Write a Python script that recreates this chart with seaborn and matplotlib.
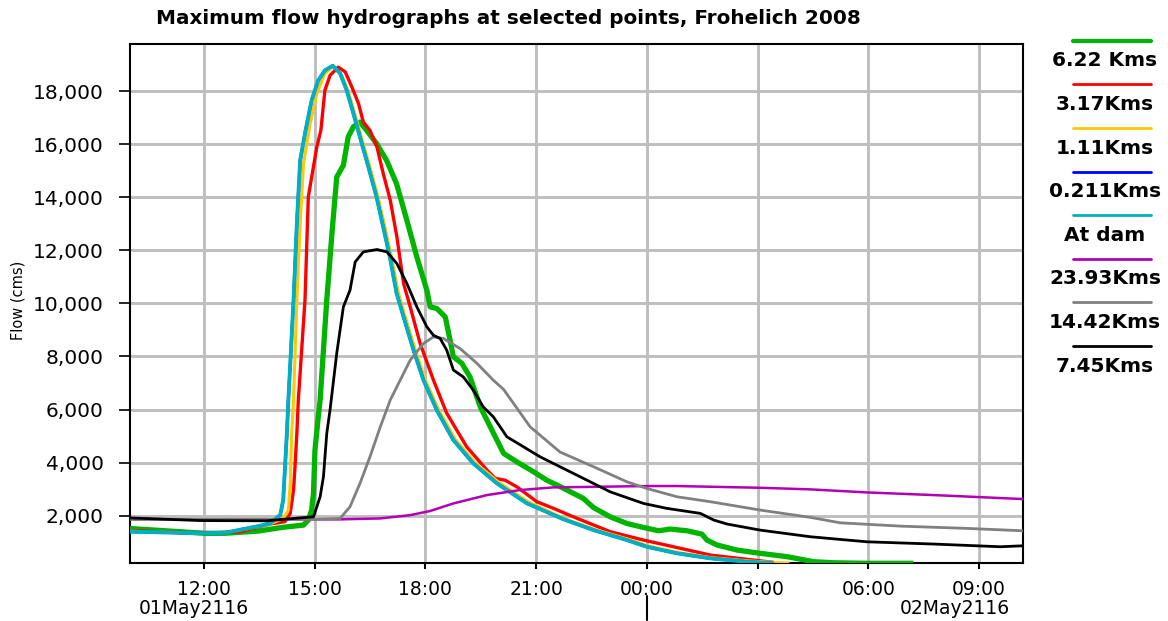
import numpy as np
import pandas as pd
import matplotlib
matplotlib.use("Agg")
import matplotlib.pyplot as plt
import matplotlib.transforms as mtransforms
from matplotlib.lines import Line2D
import seaborn as sns

# ---------------- data (hours since 01May2116 00:00, flow in cms) ----------------
TITLE = "Maximum flow hydrographs at selected points, Frohelich 2008"
Y_LABEL = "Flow (cms)"
x_tick_hours = [12, 15, 18, 21, 24, 27, 30, 33]
x_tick_labels = ["12:00", "15:00", "18:00", "21:00", "00:00", "03:00", "06:00", "09:00"]
y_ticks = [2000, 4000, 6000, 8000, 10000, 12000, 14000, 16000, 18000]
y_tick_labels = ["2,000", "4,000", "6,000", "8,000", "10,000", "12,000", "14,000", "16,000", "18,000"]
date_labels = ["01May2116", "02May2116"]
date_label_hours = [11.72, 32.33]
day_break_hour = 24

series_labels = ["6.22 Kms", "3.17Kms", "1.11Kms", "0.211Kms", "At dam",
                 "23.93Kms", "14.42Kms", "7.45Kms"]
series_colors = ["#00B400", "#FF0000", "#FFC800", "#0000FF", "#00AFC3",
                 "#B400B4", "#808080", "#000000"]

t_622 = [10.0, 12.03, 12.57, 13.48, 14.11, 14.70, 14.83, 14.92, 14.97, 15.01, 15.10, 15.15,
         15.33, 15.47, 15.60, 15.78, 15.91, 16.05, 16.23, 16.41, 16.68, 16.95, 17.22, 17.50,
         17.77, 18.04, 18.13, 18.31, 18.54, 18.67, 18.76, 18.99, 19.21, 19.49, 19.76, 20.12,
         20.48, 20.93, 21.29, 21.65, 22.28, 22.55, 23.01, 23.46, 23.91, 24.32, 24.63, 25.09,
         25.49, 25.63, 25.90, 26.44, 27.07, 27.80, 28.52, 29.06, 29.96, 31.22]
q_622 = [1520, 1340, 1340, 1425, 1560, 1650, 1840, 2215, 2840, 4470, 5730, 6360,
         10120, 12630, 14760, 15200, 16270, 16650, 16830, 16520, 16020, 15390, 14510, 13130,
         11750, 10500, 9870, 9810, 9490, 8620, 7990, 7740, 7230, 6100, 5350, 4350,
         4030, 3660, 3340, 3100, 2655, 2315, 1960, 1710, 1560, 1435, 1500, 1435,
         1310, 1085, 900, 710, 585, 460, 270, 230, 210, 210]

t_317 = [10.0, 12.03, 12.98, 13.79, 14.20, 14.34, 14.43, 14.47, 14.52, 14.56, 14.74, 14.83,
         15.06, 15.17, 15.28, 15.42, 15.64, 15.83, 16.01, 16.19, 16.32, 16.50, 16.69, 16.86,
         17.05, 17.23, 17.41, 17.59, 17.86, 18.22, 18.58, 19.12, 19.67, 19.89, 20.16, 20.48,
         21.02, 21.47, 22.01, 23.01, 23.91, 24.72, 25.72, 26.71, 27.43]
q_317 = [1440, 1340, 1400, 1690, 1780, 2090, 2970, 3850, 5100, 6360, 10120, 14010,
         15890, 16520, 18030, 18590, 18900, 18720, 18150, 17530, 16830, 16520, 15890, 14890,
         13890, 12500, 10750, 9870, 8490, 7110, 5860, 4600, 3720, 3410, 3340, 3090,
         2530, 2280, 1960, 1400, 1085, 833, 520, 360, 245]

t_111 = [10.0, 12.03, 12.57, 13.48, 13.79, 14.15, 14.29, 14.34, 14.38, 14.43, 14.52, 14.61,
         14.70, 14.88, 15.06, 15.28, 15.51, 15.74, 15.92, 16.10, 16.28, 16.51, 16.73, 16.91,
         17.09, 17.27, 17.46, 17.73, 18.00, 18.36, 18.81, 19.35, 19.99, 20.80, 21.79, 22.61,
         23.51, 24.05, 24.87, 25.77, 26.76, 27.50, 27.86]
q_111 = [1420, 1340, 1360, 1590, 1690, 1900, 2215, 3220, 5100, 6360, 10120, 13000,
         15270, 16770, 17900, 18660, 18940, 18590, 17950, 17100, 16200, 15080, 13950, 12850,
         11700, 10400, 9480, 8250, 7120, 6000, 4880, 4000, 3260, 2510, 1880, 1480,
         1110, 860, 610, 420, 300, 240, 215]

t_0211 = [10.0, 12.03, 12.57, 13.48, 13.79, 14.07, 14.15, 14.20, 14.25, 14.29, 14.43, 14.52,
          14.61, 14.74, 14.92, 15.10, 15.28, 15.49, 15.69, 15.87, 16.05, 16.23, 16.46, 16.68,
          16.86, 17.04, 17.22, 17.41, 17.68, 17.95, 18.31, 18.76, 19.30, 19.94, 20.75, 21.74,
          22.56, 23.46, 24.00, 24.82, 25.72, 26.71, 27.43]
q_0211 = [1400, 1340, 1360, 1610, 1710, 2030, 2590, 3850, 5110, 6360, 10120, 13020,
          15390, 16400, 17650, 18400, 18780, 18950, 18670, 18030, 17160, 16260, 15130, 14000,
          12870, 11740, 10390, 9490, 8240, 7110, 5980, 4850, 3970, 3220, 2470, 1870,
          1460, 1085, 833, 585, 396, 270, 210]

t_dam = [10.0, 12.03, 12.57, 13.48, 13.79, 14.07, 14.15, 14.20, 14.25, 14.29, 14.43, 14.52,
         14.61, 14.74, 14.92, 15.10, 15.28, 15.49, 15.69, 15.87, 16.05, 16.23, 16.46, 16.68,
         16.86, 17.04, 17.22, 17.41, 17.68, 17.95, 18.31, 18.76, 19.30, 19.94, 20.75, 21.74,
         22.56, 23.46, 24.00, 24.82, 25.72, 26.71, 27.43]
q_dam = [1400, 1340, 1360, 1610, 1710, 2030, 2590, 3850, 5110, 6360, 10120, 13020,
         15390, 16400, 17650, 18400, 18780, 18950, 18670, 18030, 17160, 16260, 15130, 14000,
         12870, 11740, 10390, 9490, 8240, 7110, 5980, 4850, 3970, 3220, 2470, 1870,
         1460, 1085, 833, 585, 396, 270, 210]

t_2393 = [10.0, 15.69, 16.78, 17.59, 18.13, 18.76, 19.67, 20.57, 21.47, 22.56, 24.00, 24.82,
          27.07, 28.43, 29.96, 31.77, 34.19]
q_2393 = [1865, 1865, 1900, 2025, 2180, 2465, 2780, 2970, 3070, 3090, 3120, 3120,
          3055, 2995, 2880, 2780, 2630]

t_1442 = [10.0, 14.97, 15.69, 15.96, 16.23, 16.50, 16.78, 17.05, 17.23, 17.59, 17.95, 18.22,
          18.49, 18.94, 19.40, 19.84, 20.12, 20.84, 21.65, 22.56, 23.46, 24.00, 24.82, 25.72,
          27.07, 28.43, 29.24, 30.87, 32.67, 34.19]
q_1442 = [1870, 1865, 1900, 2340, 3220, 4220, 5350, 6360, 6860, 7860, 8490, 8740,
          8680, 8300, 7740, 7110, 6760, 5350, 4400, 3845, 3280, 3030, 2715, 2530,
          2215, 1940, 1735, 1610, 1525, 1435]

t_745 = [10.0, 11.90, 13.70, 14.61, 14.97, 15.15, 15.24, 15.33, 15.42, 15.60, 15.78, 15.96,
         16.10, 16.32, 16.69, 16.96, 17.23, 17.50, 17.77, 18.04, 18.22, 18.40, 18.58, 18.76,
         19.03, 19.30, 19.57, 19.84, 20.21, 21.11, 21.65, 22.38, 23.01, 23.91, 24.54, 25.45,
         25.81, 26.17, 27.07, 28.43, 29.96, 31.77, 33.58, 34.19]
q_745 = [1920, 1820, 1810, 1920, 1960, 2715, 3470, 5100, 6000, 8115, 9870, 10500,
         11560, 11940, 12030, 11940, 11500, 10750, 9870, 9120, 8800, 8680, 8240, 7490,
         7230, 6730, 6100, 5730, 4975, 4220, 3845, 3340, 2900, 2465, 2280, 2090,
         1840, 1690, 1460, 1210, 1020, 935, 833, 870]

series_times = [t_622, t_317, t_111, t_0211, t_dam, t_2393, t_1442, t_745]
series_flows = [q_622, q_317, q_111, q_0211, q_dam, q_2393, q_1442, q_745]

# ---------------- styling ----------------
line_widths = [3.8, 2.4, 2.2, 2.2, 2.8, 1.8, 2.0, 2.0]
draw_order = [0, 1, 2, 3, 4, 6, 5, 7]

sns.set_theme(style="white")
plt.rcParams['font.family'] = ['DejaVu Sans']

W, H = 1168, 621
fig = plt.figure(figsize=(W / 100, H / 100), dpi=100)
ax = fig.add_axes([130 / W, 1 - 563.3 / H, (1023 - 130) / W, (563.3 - 44.3) / H])

for i in draw_order:
    df = pd.DataFrame({"time": series_times[i], "flow": series_flows[i]})
    sns.lineplot(data=df, x="time", y="flow", ax=ax, color=series_colors[i],
                 linewidth=line_widths[i], sort=False, estimator=None, legend=False,
                 zorder=3 + i * 0.1, solid_joinstyle="round", solid_capstyle="butt")

ax.set_xlim(10.0, 34.19)
ax.set_ylim(210, 19760)
ax.set_xticks(x_tick_hours)
ax.set_xticklabels(x_tick_labels)
ax.set_yticks(y_ticks)
ax.set_yticklabels(y_tick_labels)
ax.set_xlabel("")
ax.set_ylabel("")
ax.grid(True, color="#BEBEBE", linewidth=2.1, zorder=0)
ax.set_axisbelow(True)
for sp in ax.spines.values():
    sp.set_visible(True)
    sp.set_color("black")
    sp.set_linewidth(1.5)
ax.tick_params(axis="x", which="major", direction="out", length=4, width=1.5,
               pad=8, labelsize=13.5, colors="black", bottom=True)
ax.tick_params(axis="y", which="major", direction="out", length=8, width=1.2,
               pad=11, labelsize=14.5, colors="black", left=True)

# date labels & day break marker
trans = mtransforms.blended_transform_factory(ax.transData, fig.transFigure)
for lab, hr in zip(date_labels, date_label_hours):
    ax.text(hr, 1 - 609 / H, lab, transform=trans, ha="center", va="center",
            fontsize=13.5, color="black")
ax.add_line(Line2D([day_break_hour, day_break_hour], [1 - 596 / H, 1 - 620 / H],
                   transform=trans, color="black", linewidth=1.5, clip_on=False))

# title and y label
fig.text(508 / W, 1 - 18 / H, TITLE, ha="center", va="center", fontsize=14.4,
         fontweight="bold", color="black")
fig.text(18 / W, 1 - 300 / H, Y_LABEL, ha="center", va="center", rotation=90,
         fontsize=10.5, color="black")

# legend on the right (line sample above label)
leg_x0, leg_x1 = 1073 / W, 1151 / W
leg_tx = 1105 / W
for k, (lab, col) in enumerate(zip(series_labels, series_colors)):
    ly = 40.7 + k * 43.6
    ty = 61.0 + k * 43.6
    lw = 3.0 if k == 0 else 2.0
    fig.add_artist(Line2D([leg_x0, leg_x1], [1 - ly / H, 1 - ly / H],
                          transform=fig.transFigure, color=col, linewidth=lw))
    fig.text(leg_tx, 1 - ty / H, lab, ha="center", va="center", fontsize=14.5,
             fontweight="bold", color="black")

fig.savefig("out.png", dpi=100, facecolor="white")
